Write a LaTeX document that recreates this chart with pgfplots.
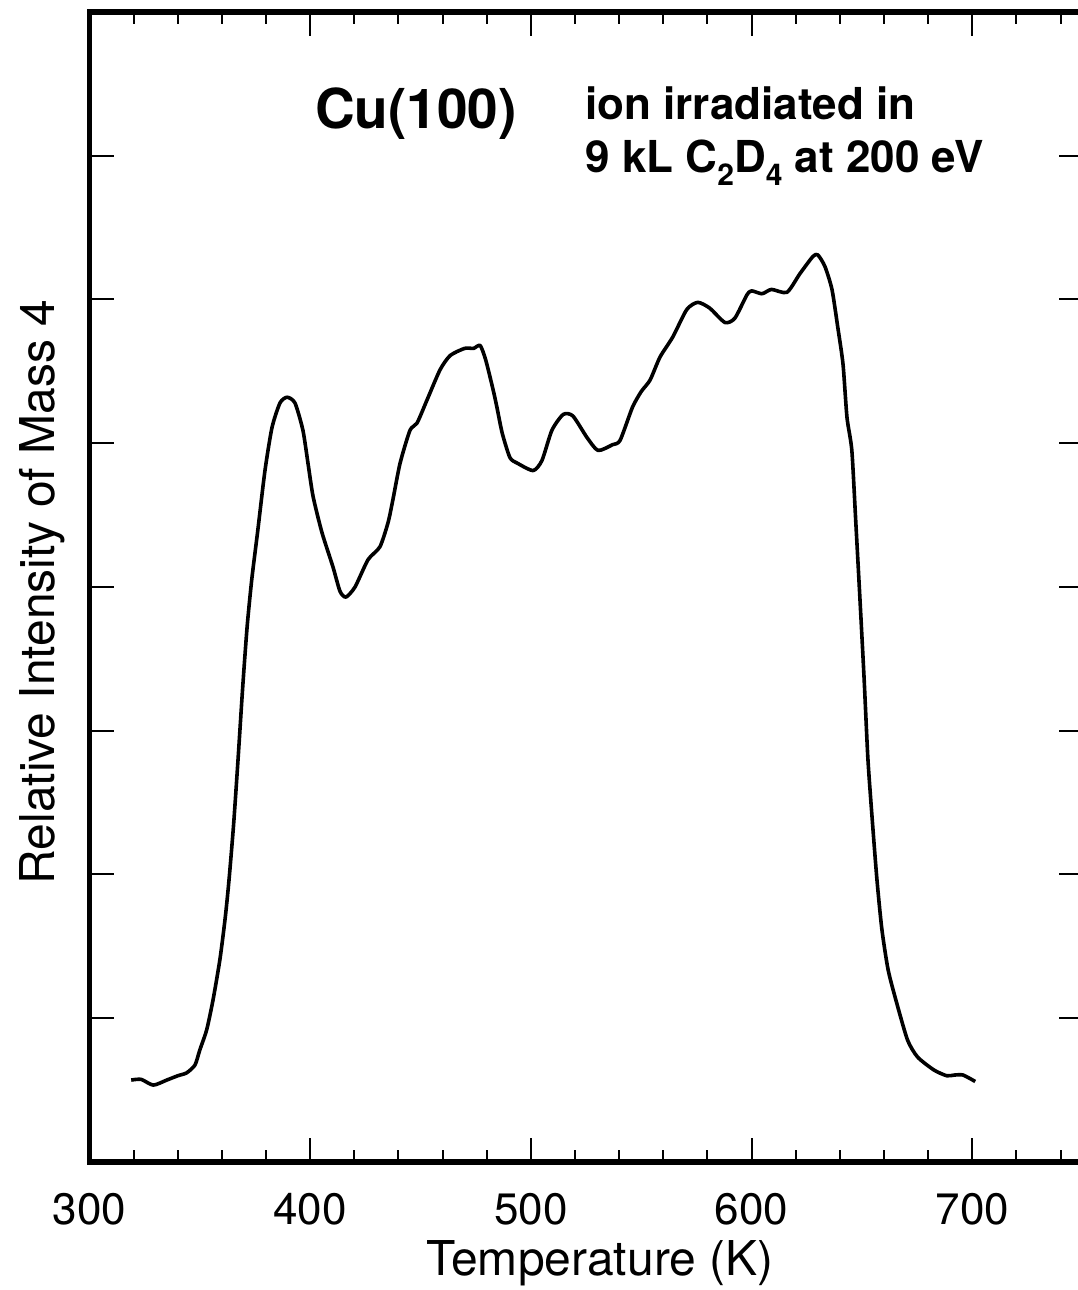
\documentclass[border=0pt]{standalone}
\usepackage{pgfplots}
\pgfplotsset{compat=1.18}
\usepackage{fontspec}
\setmainfont{TeX Gyre Heros}
\setsansfont{TeX Gyre Heros}

% TPD trace of mass 4 (D2) from Cu(100)
\begin{document}
\begin{tikzpicture}
\begin{axis}[
  at={(0,0)}, anchor=south west,
  scale only axis,
  width=496.6pt, height=575pt,
  xmin=300, xmax=750, ymin=0, ymax=8,
  axis line style={line width=2.6pt, line cap=rect},
  tick align=inside, tickpos=both,
  tick style={black, line width=1pt},
  major tick length=12pt, minor tick length=6pt,
  xtick={300,400,500,600,700},
  minor xtick={320,340,360,380,420,440,460,480,520,540,560,580,620,640,660,680,720,740},
  ytick={1,2,3,4,5,6,7},
  yticklabels={},
  /pgf/number format/assume math mode=true,
  xticklabel style={font=\fontsize{22}{22}\selectfont, yshift=-12pt},
  xlabel={Temperature (K)},
  xlabel style={at={(axis description cs:0.514,-0.0983)}, anchor=base, inner sep=0pt,
    font=\fontsize{24}{24}\selectfont},
  clip=true,
]
\addplot[black, line width=1.8pt, line join=round, smooth, tension=0.4] table {
T v
318.9 0.57
323.4 0.575
328.9 0.535
335 0.57
340 0.60
344 0.62
347.8 0.675
350 0.78
353.1 0.92
356 1.13
359.1 1.41
361.5 1.70
363.2 1.96
365.3 2.35
367.3 2.80
369.4 3.30
371.4 3.72
373.5 4.05
376.3 4.40
379.5 4.81
382.7 5.11
386.3 5.28
389.5 5.32
393.1 5.28
396.7 5.09
399 4.86
401.3 4.63
405.3 4.38
410.3 4.14
413.5 3.97
416.2 3.93
420.3 4.00
426.2 4.19
431.6 4.28
435.3 4.45
437.5 4.61
440.7 4.86
445.2 5.09
448.4 5.14
452.9 5.30
458.8 5.51
463.4 5.61
470 5.66
474 5.66
477 5.68
479.5 5.58
482.9 5.37
484.6 5.25
487 5.07
490.5 4.90
494 4.86
501 4.81
505 4.88
509.5 5.09
514.6 5.20
519 5.19
525.4 5.04
530.4 4.95
537 4.99
540.4 5.02
546 5.25
550 5.36
554 5.44
558.5 5.60
564.3 5.74
570.6 5.93
575.6 5.98
581 5.94
587.9 5.84
592.4 5.87
597.8 6.03
600 6.06
604.7 6.04
609 6.07
616 6.05
621.9 6.18
627.8 6.30
630 6.31
633.2 6.23
636.4 6.07
639 5.81
641.4 5.55
643.2 5.18
645.4 4.95
647.2 4.45
649.1 3.91
651 3.35
652.7 2.80
654.8 2.35
656.8 1.96
659 1.62
661.8 1.34
665.3 1.13
670.6 0.85
675.2 0.73
682.6 0.64
688.4 0.60
692 0.605
695.8 0.605
701.3 0.56
};
\node[anchor=base, inner sep=0pt, font=\bfseries\fontsize{27.5}{27.5}\selectfont]
  at (axis cs:447.9,7.19) {Cu(100)};
\node[anchor=base west, inner sep=0pt, font=\bfseries\fontsize{22}{22}\selectfont]
  at (axis cs:524.5,7.25) {ion irradiated in};
\node[anchor=base west, inner sep=0pt, font=\bfseries\fontsize{22}{22}\selectfont]
  at (axis cs:524.5,6.88) {9 kL C\raisebox{-0.28em}{\fontsize{15}{15}\selectfont 2}D\raisebox{-0.28em}{\fontsize{15}{15}\selectfont 4} at 200 eV};
\end{axis}
\node[rotate=90, anchor=base, inner sep=0pt, font=\fontsize{24}{24}\selectfont]
  at (-17.25pt,285pt) {Relative Intensity of Mass 4};
\pgfresetboundingbox
\path[use as bounding box] (-44.75pt,-64pt) rectangle (493.75pt,581pt);
\end{tikzpicture}
\end{document}
